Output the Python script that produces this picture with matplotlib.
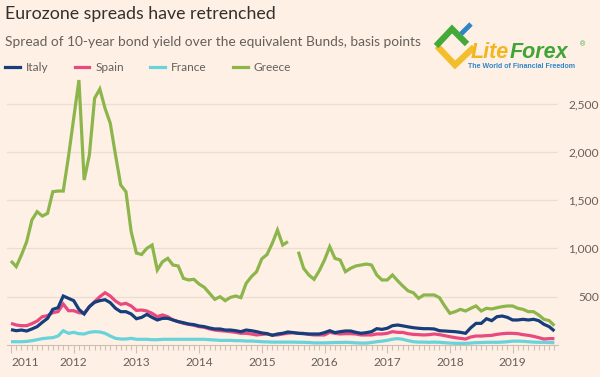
import numpy as np
import matplotlib
matplotlib.use("Agg")
import matplotlib.pyplot as plt
from matplotlib.lines import Line2D

# ---------------- data (monthly, Jan 2011 .. Sep 2019) ----------------
start_year = 2011
greece = [870, 811, 932, 1070, 1294, 1380, 1335, 1363, 1587, 1594, 1594, 1950,
          2347, 2743, 1708, 1967, 2554, 2650, 2450, 2295, 1967, 1656, 1587, 1173,
          952, 937, 1001, 1035, 776, 862, 897, 828, 818, 690, 673, 680,
          631, 597, 535, 473, 500, 459, 493, 507, 490, 638, 707, 759,
          892, 937, 1052, 1190, 1035, 1070, np.nan, 966, 794, 725, 680, 769,
          880, 1018, 897, 880, 759, 794, 818, 828, 838, 828, 725, 673,
          673, 725, 665, 610, 560, 541, 483, 518, 518, 518, 490, 404,
          328, 345, 369, 352, 380, 404, 352, 380, 373, 386, 397, 404,
          404, 380, 369, 345, 345, 311, 266, 252, 200]
italy = [159, 148, 155, 145, 166, 190, 235, 276, 369, 386, 507, 483,
         459, 369, 321, 397, 442, 459, 469, 438, 380, 345, 345, 321,
         272, 286, 317, 286, 259, 276, 276, 259, 242, 231, 217, 211,
         197, 190, 176, 166, 166, 155, 155, 148, 138, 155, 148, 138,
         125, 118, 100, 114, 121, 135, 128, 121, 117, 114, 114, 114,
         128, 148, 128, 138, 145, 145, 131, 121, 128, 138, 169, 162,
         173, 200, 207, 198, 188, 179, 173, 169, 169, 166, 148, 145,
         141, 138, 131, 121, 179, 224, 224, 272, 252, 293, 300, 286,
         259, 259, 266, 259, 266, 252, 214, 190, 145]
spain = [224, 207, 200, 200, 221, 248, 293, 304, 335, 345, 424, 355,
         355, 335, 328, 397, 449, 500, 541, 507, 455, 421, 431, 404,
         358, 362, 352, 328, 293, 311, 293, 259, 242, 224, 214, 204,
         190, 183, 166, 155, 148, 145, 138, 131, 121, 121, 114, 104,
         110, 114, 104, 104, 114, 121, 128, 121, 121, 110, 104, 104,
         104, 131, 121, 114, 117, 117, 114, 104, 104, 104, 114, 114,
         121, 138, 131, 130, 117, 110, 107, 104, 107, 114, 107, 97,
         86, 76, 69, 62, 83, 93, 93, 97, 100, 110, 117, 121,
         121, 117, 107, 100, 90, 76, 62, 66, 66]
france = [34, 34, 34, 37, 45, 55, 66, 72, 76, 93, 148, 121,
          131, 117, 114, 131, 138, 135, 121, 93, 69, 62, 62, 69,
          59, 59, 59, 55, 55, 59, 59, 59, 59, 59, 59, 59,
          59, 59, 55, 52, 48, 48, 48, 45, 45, 41, 41, 38,
          34, 32, 30, 30, 30, 30, 30, 28, 28, 26, 22, 22,
          22, 24, 26, 26, 28, 26, 22, 20, 20, 26, 34, 40,
          48, 60, 66, 59, 45, 34, 30, 30, 28, 30, 28, 24,
          20, 17, 17, 17, 20, 24, 26, 28, 28, 28, 30, 34,
          40, 40, 38, 34, 30, 28, 28, 26, 24]
series_names = ["Italy", "Spain", "France", "Greece"]
year_ticks = [2011, 2012, 2013, 2014, 2015, 2016, 2017, 2018, 2019]
y_ticks = [500, 1000, 1500, 2000, 2500]

# ---------------- style ----------------
BG = "#FEF0E4"
GRID = "#EDDDD0"
TICKC = "#CDBFB4"
TXT = "#33302E"
SUB = "#66605C"
colors = {"Italy": "#163E7C", "Spain": "#E8497E", "France": "#68D3DA", "Greece": "#8CB54C"}

plt.rcParams["font.family"] = ["Lato", "DejaVu Sans"]

W, H = 600, 377
fig = plt.figure(figsize=(W / 100, H / 100), dpi=100, facecolor=BG)

def fx(px):
    return px / W

def fy(py):
    return 1 - py / H

# axes geometry (pixels)
ax_l, ax_r, ax_b = 7, 558, 345
ytop = 2800
ppu = 48.3 / 500.0
ax_t = ax_b - ytop * ppu
ax = fig.add_axes([fx(ax_l), fy(ax_b), fx(ax_r) - fx(ax_l), fy(ax_t) - fy(ax_b)])
ax.set_facecolor(BG)

n = len(greece)
x = start_year + np.arange(n) / 12.0
data = {"Italy": italy, "Spain": spain, "France": france, "Greece": greece}

lines = {}
for name in ["Greece", "France", "Spain", "Italy"]:
    (ln,) = ax.plot(x, data[name], color=colors[name], lw=2.3, solid_capstyle="butt",
                    solid_joinstyle="miter", label=name, zorder=3)
    lines[name] = ln

px_per_year = 62.7
x_left = 2011 - (11 - ax_l) / px_per_year
x_right = 2011 + (ax_r - 11) / px_per_year
ax.set_xlim(x_left, x_right)
ax.set_ylim(0, ytop)

for s in ["top", "left", "right"]:
    ax.spines[s].set_visible(False)
ax.spines["bottom"].set_color(TICKC)
ax.spines["bottom"].set_linewidth(0.8)

ax.yaxis.tick_right()
ax.set_yticks(y_ticks)
ax.set_yticklabels([f"{v:,}" for v in y_ticks])
ax.tick_params(axis="y", length=0, pad=29.5, labelsize=8.6, labelcolor=SUB)
for lab in ax.get_yticklabels():
    lab.set_horizontalalignment("right")
ax.grid(axis="y", color=GRID, lw=0.9, zorder=0)

ax.set_xticks(year_ticks)
ax.set_xticklabels([str(y) for y in year_ticks])
minor = start_year + np.arange(0, n) / 12.0
ax.set_xticks(minor, minor=True)
ax.tick_params(axis="x", which="major", length=5.5, width=0.8, color=TICKC,
               labelsize=8.6, labelcolor=SUB, pad=3)
ax.tick_params(axis="x", which="minor", length=3.5, width=0.8, color=TICKC)
ax.get_xticklabels()[0].set_horizontalalignment("left")

# titles
fig.text(fx(5), fy(13.7), "Eurozone spreads have retrenched", fontsize=12.8,
         color=TXT, va="center", ha="left")
fig.text(fx(5), fy(41.5), "Spread of 10-year bond yield over the equivalent Bunds, basis points",
         fontsize=9.9, color=SUB, va="center", ha="left")

# legend
handles = [Line2D([0], [0], color=colors[nm], lw=2.3) for nm in series_names]
fig.legend(handles, series_names, loc="center left", bbox_to_anchor=(fx(5), fy(67.7)),
           ncol=4, frameon=False, fontsize=8.6, labelcolor=SUB, handlelength=1.22,
           handletextpad=0.52, columnspacing=2.2, borderpad=0, borderaxespad=0)

# watermark logo
def pl(pts, color, lw):
    xs = [fx(p[0]) for p in pts]
    ys = [fy(p[1]) for p in pts]
    fig.add_artist(Line2D(xs, ys, color=color, lw=lw, solid_capstyle="butt",
                          solid_joinstyle="miter", transform=fig.transFigure))

pl([(437, 46), (455, 65), (474, 47)], "#F3BE2C", 4.5)
pl([(436, 46), (452, 29), (467, 44)], "#45A93A", 4.5)
pl([(461, 34), (471, 24)], "#2E86C9", 3.5)

t1 = fig.text(fx(471), fy(53), "Lite", fontsize=15.5, fontweight="bold", fontstyle="italic",
              family=["Liberation Sans"], color="#F3B520", va="center", ha="left")
fig.canvas.draw()
bb = t1.get_window_extent()
t2 = fig.text(bb.x1 / W, fy(53), "Forex", fontsize=15.5, fontweight="bold", fontstyle="italic",
              family=["Liberation Sans"], color="#3FA535", va="center", ha="left")
fig.text(fx(582), fy(45), "®", fontsize=5, color="#3FA535", family=["Liberation Sans"],
         va="center", ha="center")
fig.text(fx(522), fy(66.5), "The World of Financial Freedom", fontsize=5.0, fontweight="bold",
         family=["Liberation Sans"], color="#2E86C9", va="center", ha="center")

fig.savefig("out.png", dpi=100, facecolor=BG)
